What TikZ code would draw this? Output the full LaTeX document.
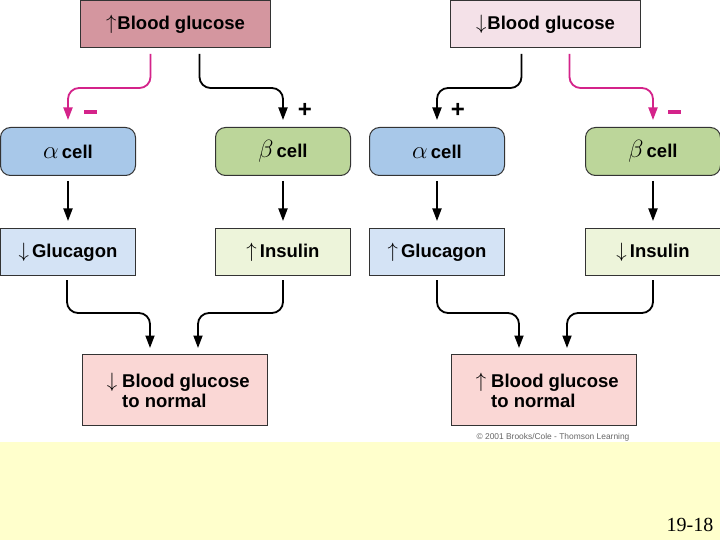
\documentclass[tikz,border=0pt]{standalone}
\usepackage{fontspec}
\setmainfont{Liberation Sans}
\newfontfamily\serifnum{Liberation Serif}
\usetikzlibrary{arrows.meta,calc}
\definecolor{topLc}{HTML}{D4969F}
\definecolor{topRc}{HTML}{F4E1E8}
\definecolor{alphac}{HTML}{A8C8E9}
\definecolor{betac}{HTML}{BCD69A}
\definecolor{glucc}{HTML}{D4E3F5}
\definecolor{insc}{HTML}{EDF4DA}
\definecolor{botc}{HTML}{FAD7D5}
\definecolor{magc}{HTML}{D4238A}
\definecolor{yelc}{HTML}{FFFFCC}
\definecolor{edgec}{HTML}{333333}
\newcommand{\galpha}{{\fontsize{25}{25}\selectfont$\alpha$}}
\newcommand{\gbeta}{{\fontsize{24}{24}\selectfont$\beta$}}
\newcommand{\uparr}{{\fontsize{21}{21}\selectfont$\uparrow$}}
\newcommand{\downarr}{{\fontsize{21}{21}\selectfont$\downarrow$}}
\begin{document}
\begin{tikzpicture}[x=1pt,y=-1pt,
  font=\fontsize{18.5}{20}\selectfont\bfseries,
  boxbase/.style={draw=edgec, line width=1pt, inner sep=0pt, anchor=north west},
  topbox/.style={boxbase, minimum width=190pt, minimum height=47pt},
  cellbox/.style={boxbase, rounded corners=10pt, minimum width=135pt, minimum height=48pt},
  hormbox/.style={boxbase, minimum width=135pt, minimum height=47pt},
  botbox/.style={boxbase, minimum width=185pt, minimum height=71pt},
  arr/.style={line width=1.8pt, rounded corners=11pt, -{Triangle[length=12.5pt,width=9pt]}},
  blackarr/.style={arr, draw=black},
  magarr/.style={arr, draw=magc},
  plussign/.style={font=\fontsize{24}{24}\selectfont\bfseries, inner sep=0pt},
  minussign/.style={fill=magc, inner sep=0pt, minimum width=13pt, minimum height=4pt}
]
\useasboundingbox (0,0) rectangle (720,540);
\fill[white] (0,0) rectangle (720,442);
\fill[yelc] (0,442) rectangle (720,540);

% top boxes
\node[topbox, fill=topLc] (topL) at (80,0) {};
\node at (topL.center) {\uparr\hspace{1pt}Blood glucose};
\node[topbox, fill=topRc] (topR) at (450,0) {};
\node at (topR.center) {\downarr\hspace{1pt}Blood glucose};

% cells
\node[cellbox, fill=alphac] (alphaL) at (0,127) {\galpha\,cell};
\node[cellbox, fill=betac] (betaL) at (215,127) {\gbeta\,cell};
\node[cellbox, fill=alphac] (alphaR) at (369,127) {\galpha\,cell};
\node[cellbox, fill=betac] (betaR) at (585,127) {\gbeta\,cell};

% hormones
\node[hormbox, fill=glucc] (glucL) at (0,228) {\downarr\,Glucagon};
\node[hormbox, fill=insc] (insL) at (215,228) {\uparr\,Insulin};
\node[hormbox, fill=glucc] (glucR) at (369,228) {\uparr\,Glucagon};
\node[hormbox, fill=insc] (insR) at (585,228) {\downarr\,Insulin};

% bottom boxes
\node[botbox, fill=botc] (botL) at (82,354) {};
\node[anchor=west, align=left, inner sep=0pt] (botLt) at ($(botL.west)+(40,0)$)
  {\llap{\downarr\hspace{5pt}}Blood glucose\\to normal};
\node[botbox, fill=botc] (botR) at (451,354) {};
\node[anchor=west, align=left, inner sep=0pt] (botRt) at ($(botR.west)+(40,0)$)
  {\llap{\uparr\hspace{5pt}}Blood glucose\\to normal};

% top arrows, left
\draw[magarr] ($(topL.south)+(-25,6)$) |- ($(alphaL.north)+(0,-39)$) -- ($(alphaL.north)+(0,-7)$);
\draw[blackarr] ($(topL.south)+(24,6)$) |- ($(betaL.north)+(0,-39)$) -- ($(betaL.north)+(0,-7)$);
\node[minussign] (mL) at (90,112) {};
\node[plussign] (pL) at (305,110) {+};

% top arrows, right
\draw[blackarr] ($(topR.south)+(-24,6)$) |- ($(alphaR.north)+(0,-39)$) -- ($(alphaR.north)+(0,-7)$);
\draw[magarr] ($(topR.south)+(24,6)$) |- ($(betaR.north)+(0,-39)$) -- ($(betaR.north)+(0,-7)$);
\node[plussign] (pR) at (458,110) {+};
\node[minussign] (mR) at (674,112) {};

% vertical arrows
\foreach \a/\b in {alphaL/glucL, betaL/insL, alphaR/glucR, betaR/insR}
  \draw[blackarr] ($(\a.south)+(0,5)$) -- ($(\b.north)+(0,-7)$);

% bottom arrows
\draw[blackarr] ($(glucL.south)+(-1,4)$) |- ($(botL.north)+(-25,-41)$) -- ($(botL.north)+(-25,-6)$);
\draw[blackarr] ($(insL.south)+(0,4)$) |- ($(botL.north)+(23,-41)$) -- ($(botL.north)+(23,-6)$);
\draw[blackarr] ($(glucR.south)+(0,4)$) |- ($(botR.north)+(-25,-41)$) -- ($(botR.north)+(-25,-6)$);
\draw[blackarr] ($(insR.south)+(0,4)$) |- ($(botR.north)+(23,-41)$) -- ($(botR.north)+(23,-6)$);

% credits
\node[font=\fontsize{8.4}{9}\selectfont, text=black!60, inner sep=0pt] (copy) at (553,437) {\textcopyright\ 2001 Brooks/Cole - Thomson Learning};
\node[font=\serifnum\fontsize{20}{20}\selectfont, inner sep=0pt, anchor=base] (pg) at (690,531) {19-18};
\end{tikzpicture}
\end{document}
